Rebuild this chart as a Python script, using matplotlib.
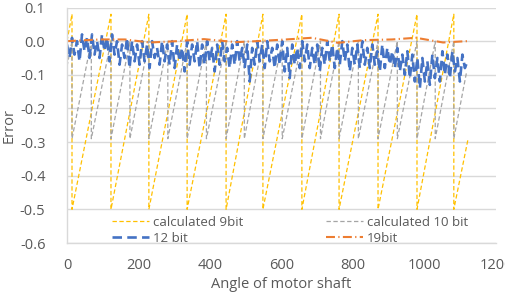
import numpy as np
import matplotlib
matplotlib.use("Agg")
import matplotlib.pyplot as plt

plt.rcParams['font.family'] = ['Open Sans', 'DejaVu Sans']
plt.rcParams['axes.unicode_minus'] = False

# ---- data ----
# calculated 9bit (sawtooth vertices)
x9 = [0, 14, 14, 123, 123, 229, 229, 336, 336, 445, 445, 548, 548, 657, 657,
      761, 761, 870, 870, 979, 979, 1082, 1082, 1122]
y9 = [0.0, 0.08, -0.5, 0.08, -0.5, 0.08, -0.5, 0.08, -0.5, 0.08, -0.5, 0.08, -0.5, 0.08, -0.5,
      0.08, -0.5, 0.08, -0.5, 0.08, -0.5, 0.08, -0.5, -0.29]

# calculated 10 bit (sawtooth vertices)
x10 = [0, 14, 14, 68, 68, 123, 123, 176, 176, 229, 229, 282, 282, 336, 336, 390, 390,
       445, 445, 496, 496, 548, 548, 602, 602, 657, 657, 709, 709, 761, 761, 815, 815,
       870, 870, 924, 924, 979, 979, 1030, 1030, 1082, 1082, 1118]
y10 = [-0.075, 0.0, -0.29, 0.0, -0.29, 0.0, -0.29, 0.0, -0.29, 0.0, -0.29, 0.0, -0.29,
       0.0, -0.29, 0.0, -0.29, 0.0, -0.29, 0.0, -0.29, 0.0, -0.29, 0.0, -0.29, 0.0, -0.29,
       0.0, -0.29, 0.0, -0.29, 0.0, -0.29, 0.0, -0.29, 0.0, -0.29, 0.0, -0.29, 0.0, -0.29,
       0.0, -0.29, -0.09]

# 12 bit (measured, every 7 units of angle)
x12 = np.arange(0, 1121, 7)
y12 = [-0.01, -0.05, 0.01, -0.04, 0.00, -0.06, 0.02, -0.03, 0.01, -0.05,
       0.02, -0.04, 0.00, -0.05, 0.02, -0.03, 0.01, -0.06, 0.02, -0.04,
       0.00, -0.07, -0.01, -0.05, 0.01, -0.08, 0.00, -0.06, -0.01, -0.07,
       0.00, -0.06, -0.01, -0.08, 0.00, -0.05, -0.02, -0.07, 0.00, -0.06,
       -0.01, -0.07, 0.00, -0.08, -0.01, -0.06, -0.02, -0.09, 0.00, -0.07,
       -0.01, -0.06, 0.00, -0.08, -0.01, -0.07, 0.00, -0.06, -0.02, -0.09,
       -0.01, -0.07, 0.00, -0.06, -0.02, -0.08, -0.01, -0.07, 0.00, -0.06,
       -0.02, -0.08, -0.01, -0.12, -0.02, -0.07, 0.00, -0.06, -0.01, -0.08,
       0.00, -0.06, -0.02, -0.08, -0.01, -0.07, 0.00, -0.09, -0.02, -0.11,
       -0.01, -0.07, -0.02, -0.08, 0.00, -0.06, -0.01, -0.08, -0.02, -0.07,
       -0.01, -0.09, -0.02, -0.07, 0.00, -0.06, -0.01, -0.08, -0.02, -0.07,
       0.00, -0.06, -0.01, -0.09, -0.02, -0.07, -0.01, -0.08, 0.00, -0.07,
       -0.02, -0.08, -0.01, -0.07, -0.03, -0.09, -0.01, -0.08, -0.02, -0.07,
       -0.03, -0.08, -0.02, -0.09, -0.04, -0.10, -0.03, -0.11, -0.04, -0.12,
       -0.05, -0.14, -0.05, -0.12, -0.06, -0.13, -0.04, -0.11, -0.05, -0.12,
       -0.03, -0.10, -0.04, -0.11, -0.03, -0.09, -0.05, -0.12, -0.04, -0.08,
       -0.06]

# 19bit
x19 = [0, 92, 162, 232, 308, 383, 473, 531, 613, 685, 758, 830, 909, 976, 1052, 1119]
y19 = [0.0, 0.005, 0.005, -0.004, 0.0, 0.006, -0.003, 0.0, 0.005, 0.01, -0.005,
       0.003, 0.005, 0.01, -0.004, 0.0]

labels = ['calculated 9bit', '12 bit', 'calculated 10 bit', '19bit']
xticks = [0, 200, 400, 600, 800, 1000, 1200]
yticks = [0.1, 0.0, -0.1, -0.2, -0.3, -0.4, -0.5, -0.6]

# ---- plot ----
W, H = 506, 297
fig = plt.figure(figsize=(W / 100, H / 100), dpi=100)
ax = fig.add_axes([67 / W, (H - 243) / H, 429 / W, 235.5 / H])

text_c = '#595959'
grid_c = '#d9d9d9'

l9, = ax.plot(x9, y9, color='#FFC000', lw=0.9, linestyle=(0, (3.5, 2)), label=labels[0])
l10, = ax.plot(x10, y10, color='#A5A5A5', lw=0.9, linestyle=(0, (3.5, 2)), label=labels[2])
l12, = ax.plot(x12, y12, color='#4472C4', lw=1.9, linestyle=(0, (3.6, 2.0)), label=labels[1])
l19, = ax.plot(x19, y19, color='#ED7D31', lw=1.5, linestyle=(0, (4.3, 1.6, 0.6, 1.6)), label=labels[3])

ax.set_xlim(0, 1200)
ax.set_ylim(-0.6, 0.1)
ax.set_xticks(xticks)
ax.set_xticklabels([str(v) for v in xticks])
ax.set_yticks(yticks)
ax.set_yticklabels([f'{v:.1f}' for v in yticks])
ax.tick_params(length=0, labelsize=10.5, labelcolor=text_c)
ax.tick_params(axis='y', pad=15.5)
ax.tick_params(axis='x', pad=11)
ax.grid(axis='y', color=grid_c, lw=1)
ax.set_axisbelow(True)
for s in ['top', 'right']:
    ax.spines[s].set_visible(False)
for s in ['left', 'bottom']:
    ax.spines[s].set_color(grid_c)
    ax.spines[s].set_linewidth(1)

ax.set_xlabel('Angle of motor shaft', fontsize=10.5, color=text_c)
ax.xaxis.set_label_coords(0.5, -0.178)
ax.xaxis.label.set_va('center')
ax.set_ylabel('Error', fontsize=10.5, color=text_c)
ax.yaxis.set_label_coords(-0.135, 0.5)
ax.yaxis.label.set_va('center')

leg = ax.legend([l9, l12, l10, l19], labels, ncol=2, frameon=False,
                loc='upper left', bbox_to_anchor=(45 / 429, 1 - (216 - 7.5) / 235.5),
                fontsize=9.5, labelcolor=text_c, handlelength=2.8, handletextpad=0.3,
                columnspacing=6.3, labelspacing=0.2, borderpad=0, borderaxespad=0)

fig.savefig('out.png', dpi=100, facecolor='white')
